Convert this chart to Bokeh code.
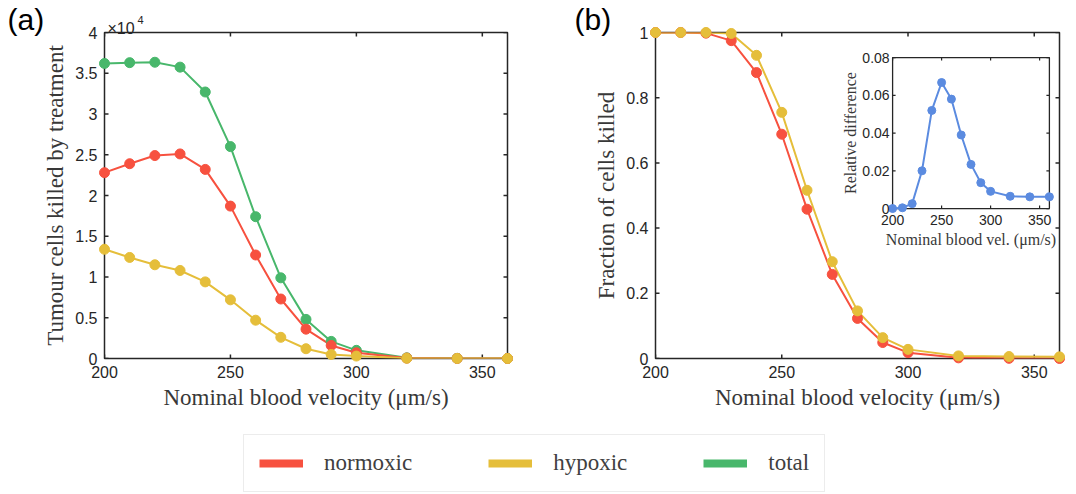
import math
from bokeh.plotting import figure
from bokeh.models import (Range1d, FixedTicker, LinearAxis, Label, Legend,
                          LegendItem, ColumnDataSource, GridBox)
from bokeh.layouts import column, row
from bokeh.embed import file_html
from bokeh.resources import INLINE

# ---------------- data ----------------
velocity = [200, 210, 220, 230, 240, 250, 260, 270, 280, 290, 300, 320, 340, 360]
# panel (a): tumour cells killed, in units of 10^4
killed_total = [3.62, 3.63, 3.635, 3.575, 3.27, 2.60, 1.74, 0.99, 0.48, 0.21, 0.10, 0.008, 0.002, 0.001]
killed_normoxic = [2.28, 2.39, 2.49, 2.51, 2.32, 1.87, 1.27, 0.73, 0.36, 0.16, 0.07, 0.005, 0.001, 0.0]
killed_hypoxic = [1.34, 1.24, 1.15, 1.08, 0.94, 0.72, 0.47, 0.26, 0.12, 0.05, 0.03, 0.003, 0.001, 0.0]
# panel (b): fraction of cells killed
frac_normoxic = [1.0, 1.0, 0.998, 0.975, 0.877, 0.688, 0.458, 0.258, 0.123, 0.049, 0.018, 0.002, 0.0005, 0.0]
frac_hypoxic = [1.0, 1.0, 1.0, 0.997, 0.93, 0.755, 0.516, 0.297, 0.146, 0.064, 0.028, 0.008, 0.006, 0.005]
# inset: relative difference
rel_diff = [0.0, 0.0004, 0.0026, 0.020, 0.052, 0.0668, 0.058, 0.039, 0.0234, 0.0137, 0.0091, 0.0065, 0.0062, 0.0062]

x_ticks = [200, 250, 300, 350]
x_tick_labels = ["200", "250", "300", "350"]
a_y_ticks = [0, 0.5, 1, 1.5, 2, 2.5, 3, 3.5, 4]
a_y_tick_labels = ["0", "0.5", "1", "1.5", "2", "2.5", "3", "3.5", "4"]
b_y_ticks = [0, 0.2, 0.4, 0.6, 0.8, 1]
b_y_tick_labels = ["0", "0.2", "0.4", "0.6", "0.8", "1"]
inset_x_ticks = [200, 250, 300, 350]
inset_x_tick_labels = ["200", "250", "300", "350"]
inset_y_ticks = [0, 0.02, 0.04, 0.06, 0.08]
inset_y_tick_labels = ["0", "0.02", "0.04", "0.06", "0.08"]
series_names = ["normoxic", "hypoxic", "total"]

# ---------------- styles / layout constants ----------------
RED = "#F7513F"
YELLOW = "#E5BE3A"
GREEN = "#48B76B"
BLUE = "#5B8BE0"
AX = "#262626"
TITLE_C = "#383838"
SANS = "Liberation Sans"
SERIF = "Liberation Serif"
TICK_PX = 4.0
W, H = 1076, 494
TOP, BOTTOM = 32, 358            # frame top / bottom (px from top) of both panels
A_LEFT, A_RIGHT = 104, 507       # panel (a) frame
B_LEFT, B_RIGHT = 655, 1059      # panel (b) frame
A_W = 540                        # width of the panel (a) figure

src = ColumnDataSource(dict(v=velocity, kt=killed_total, kn=killed_normoxic,
                            kh=killed_hypoxic, fn=frac_normoxic, fh=frac_hypoxic,
                            rd=rel_diff))


def style_axis(ax, ticks, labels, title):
    ax.ticker = FixedTicker(ticks=ticks, minor_ticks=[])
    ax.major_tick_in = 0
    ax.major_tick_out = 0
    ax.minor_tick_line_color = None
    ax.major_tick_line_color = None
    ax.axis_line_color = None
    ax.major_label_overrides = {t: l for t, l in zip(ticks, labels)}
    ax.major_label_text_font = SANS
    ax.major_label_text_font_size = "16px"
    ax.major_label_text_color = AX
    ax.major_label_standoff = 7
    ax.axis_label = title
    ax.axis_label_text_font = SERIF
    ax.axis_label_text_font_size = "23px"
    ax.axis_label_text_font_style = "normal"
    ax.axis_label_text_color = TITLE_C
    ax.axis_label_standoff = 4


def box_ticks(target, xr, yr, xt, yt, frame_w, frame_h, tick_px, lw):
    """inward tick marks on all four sides of a box (MATLAB style)"""
    dx = tick_px * (xr.end - xr.start) / frame_w
    dy = tick_px * (yr.end - yr.start) / frame_h
    n, m = len(xt), len(yt)
    target.segment(x0=xt, x1=xt, y0=[yr.start] * n, y1=[yr.start + dy] * n,
                   line_color=AX, line_width=lw)
    target.segment(x0=xt, x1=xt, y0=[yr.end] * n, y1=[yr.end - dy] * n,
                   line_color=AX, line_width=lw)
    target.segment(x0=[xr.start] * m, x1=[xr.start + dx] * m, y0=yt, y1=yt,
                   line_color=AX, line_width=lw)
    target.segment(x0=[xr.end] * m, x1=[xr.end - dx] * m, y0=yt, y1=yt,
                   line_color=AX, line_width=lw)


def make_panel(x0, width, left, right, y_end, yticks, ylabels, ytitle):
    xr = Range1d(200, 360)
    yr = Range1d(0, y_end)
    p = figure(width=width, height=BOTTOM + 72, x_range=xr, y_range=yr,
               output_backend="svg", toolbar_location=None,
               min_border_left=left - x0, min_border_right=x0 + width - right,
               min_border_top=TOP, min_border_bottom=72,
               x_axis_location=None, y_axis_location=None)
    p.grid.visible = False
    p.outline_line_color = AX
    p.outline_line_width = 1.5
    bottom = LinearAxis()
    style_axis(bottom, x_ticks, x_tick_labels, "Nominal blood velocity (\u03bcm/s)")
    p.add_layout(bottom, "below")
    leftax = LinearAxis()
    style_axis(leftax, yticks, ylabels, ytitle)
    p.add_layout(leftax, "left")
    box_ticks(p, xr, yr, x_ticks, yticks, right - left, BOTTOM - TOP, TICK_PX, 1.5)
    return p


# ---------------- panel (a) ----------------
pa = make_panel(0, A_W, A_LEFT, A_RIGHT, 4, a_y_ticks, a_y_tick_labels,
                "Tumour cells killed by treatment")
for col, c in [("kt", GREEN), ("kn", RED), ("kh", YELLOW)]:
    pa.line("v", col, source=src, line_color=c, line_width=2)

# ---------------- panel (b) ----------------
pb = make_panel(A_W, W - A_W, B_LEFT, B_RIGHT, 1, b_y_ticks, b_y_tick_labels,
                "Fraction of cells killed")
for col, c in [("fn", RED), ("fh", YELLOW)]:
    pb.line("v", col, source=src, line_color=c, line_width=2)

# ---------------- inset (sub-coordinates inside panel b) ----------------
ix = Range1d(200, 360)
iy = Range1d(0, 0.08)
inset_px_w, inset_px_h = 157.0, 151.0
sub = pb.subplot(x_source=ix, y_source=iy,
                 x_target=Range1d(293.9, 356.0), y_target=Range1d(0.46, 0.923))
sub.quad(left=[ix.start], right=[ix.end], bottom=[iy.start], top=[iy.end],
         fill_color="white", line_color=AX, line_width=1.3)
box_ticks(sub, ix, iy, inset_x_ticks, inset_y_ticks, inset_px_w, inset_px_h, 3.0, 1.2)
sub.line("v", "rd", source=src, line_color=BLUE, line_width=2)
sub.scatter("v", "rd", source=src, size=8, fill_color=BLUE, line_color=BLUE)
n = len(inset_x_ticks)
m = len(inset_y_ticks)
sub.text(x=inset_x_ticks, y=[iy.start] * n, text=inset_x_tick_labels,
         text_align="center", text_baseline="top", y_offset=6,
         text_font={"value": SANS}, text_font_size="14px", text_color=AX)
sub.text(x=[ix.start] * m, y=inset_y_ticks, text=inset_y_tick_labels,
         text_align="right", text_baseline="middle", x_offset=-3,
         text_font={"value": SANS}, text_font_size="14px", text_color=AX)
sub.text(x=[(ix.start + ix.end) / 2], y=[iy.start],
         text=["Nominal blood vel. (\u03bcm/s)"], text_align="center",
         text_baseline="top", y_offset=22, text_font={"value": SERIF},
         text_font_size="16px", text_color=TITLE_C)
sub.text(x=[ix.start], y=[(iy.start + iy.end) / 2], text=["Relative difference"],
         angle=math.pi / 2, text_align="center", text_baseline="middle",
         x_offset=-42, text_font={"value": SERIF}, text_font_size="16px",
         text_color=TITLE_C)

# ---------------- legend ----------------
pl = figure(width=W, height=H - BOTTOM - 72, x_range=Range1d(0, 1),
            y_range=Range1d(0, 1), output_backend="svg", toolbar_location=None,
            min_border=0, x_axis_location=None, y_axis_location=None)
pl.grid.visible = False
pl.outline_line_color = None
items = []
for name, col, c in zip(series_names, ["kn", "kh", "kt"], [RED, YELLOW, GREEN]):
    # same series as panel (a); they fall outside this strip's ranges, so only
    # the legend swatches are visible
    r = pl.line("v", col, source=src, line_color=c, line_width=8)
    items.append(LegendItem(label=name, renderers=[r]))
leg = Legend(items=items, orientation="horizontal", location=(243, 2),
             padding=15, spacing=76, margin=0, glyph_width=44, glyph_height=24,
             label_height=24, label_standoff=21, label_text_font=SERIF,
             label_text_font_size="23px", label_text_color="#404040",
             border_line_color="#d9d9d9", border_line_width=1,
             background_fill_color="white", background_fill_alpha=1)
pl.add_layout(leg)

# ------- transparent overlay (pixel coordinates, y down): markers that must not be
# ------- clipped at the axes box, panel letters and the x10^4 exponent
ov = figure(width=W, height=H, x_range=Range1d(0, W), y_range=Range1d(H, 0),
            output_backend="svg", toolbar_location=None, min_border=0,
            x_axis_location=None, y_axis_location=None)
ov.grid.visible = False
ov.outline_line_color = None
ov.border_fill_color = None
ov.background_fill_color = None

mk_a = ov.subplot(x_source=pa.x_range, y_source=pa.y_range,
                  x_target=Range1d(A_LEFT, A_RIGHT), y_target=Range1d(BOTTOM, TOP))
for col, c in [("kt", GREEN), ("kn", RED), ("kh", YELLOW)]:
    mk_a.scatter("v", col, source=src, size=10, fill_color=c, line_color=c)
mk_b = ov.subplot(x_source=pb.x_range, y_source=pb.y_range,
                  x_target=Range1d(B_LEFT, B_RIGHT), y_target=Range1d(BOTTOM, TOP))
for col, c in [("fn", RED), ("fh", YELLOW)]:
    mk_b.scatter("v", col, source=src, size=10, fill_color=c, line_color=c)

ov.add_layout(Label(x=7, y=2, text="(a)", text_font=SANS, text_font_size="30px",
                    text_color="black", text_baseline="top"))
ov.add_layout(Label(x=574, y=2, text="(b)", text_font=SANS, text_font_size="30px",
                    text_color="black", text_baseline="top"))
ov.add_layout(Label(x=107, y=28, text="\u00d710", text_font=SANS,
                    text_font_size="16px", text_color=AX,
                    text_baseline="alphabetic"))
ov.add_layout(Label(x=137, y=19, text="4", text_font=SANS,
                    text_font_size="11px", text_color=AX,
                    text_baseline="alphabetic"))

main = column(row(pa, pb), pl)
layout = GridBox(children=[(main, 0, 0), (column(ov), 0, 0)], spacing=0)
open("out.html", "w").write(file_html(layout, INLINE))
